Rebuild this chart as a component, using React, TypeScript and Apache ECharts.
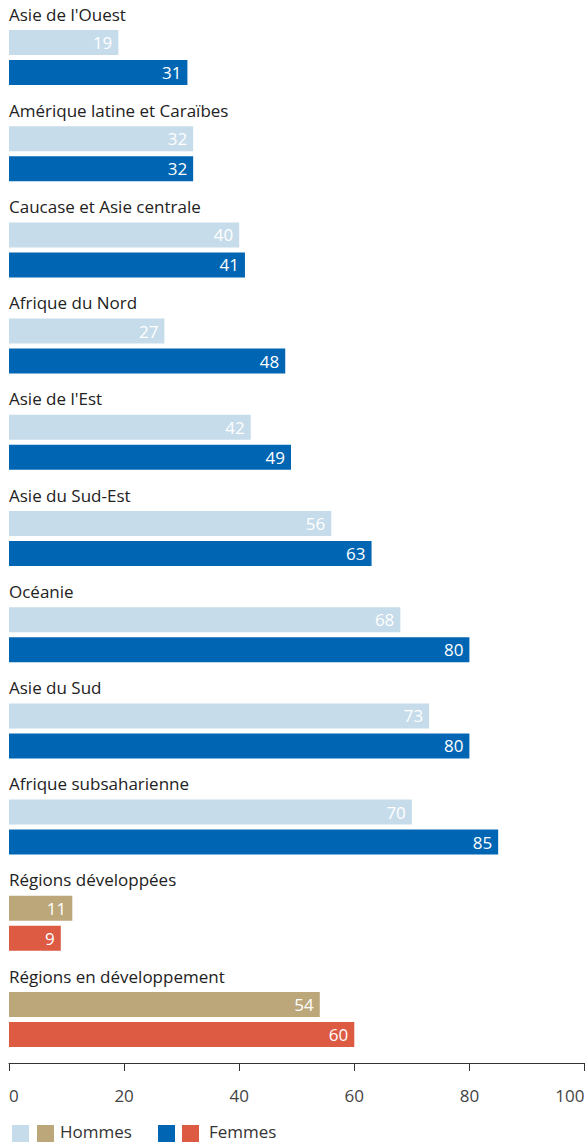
import React, { useEffect, useRef } from "react";
import * as echarts from "echarts";

const categories = [
  "Asie de l'Ouest",
  "Amérique latine et Caraïbes",
  "Caucase et Asie centrale",
  "Afrique du Nord",
  "Asie de l'Est",
  "Asie du Sud-Est",
  "Océanie",
  "Asie du Sud",
  "Afrique subsaharienne",
  "Régions développées",
  "Régions en développement",
];
const hommes = [19, 32, 40, 27, 42, 56, 68, 73, 70, 11, 54];
const femmes = [31, 32, 41, 48, 49, 63, 80, 80, 85, 9, 60];
const xTicks = [0, 20, 40, 60, 80, 100];

const C_H = "#c6dcea";
const C_F = "#0066b3";
const C_H2 = "#bba77a";
const C_F2 = "#dd5a43";
const FONT = "'Open Sans', 'Noto Sans', sans-serif";

export default function App() {
  const ref = useRef<HTMLDivElement>(null);
  useEffect(() => {
    document.body.style.margin = "0";
    const chart = echarts.init(ref.current!, undefined, { renderer: "svg" });
    const barLabel = {
      show: true,
      position: "insideRight",
      distance: 6,
      color: "#ffffff",
      fontSize: 17,
      fontFamily: FONT,
    };
    chart.setOption({
      animation: false,
      textStyle: { fontFamily: FONT },
      grid: {
        left: 9,
        right: 3.5,
        top: -5.6,
        bottom: 89.4,
        containLabel: false,
        outerBoundsMode: "none",
      },
      xAxis: {
        type: "value",
        min: xTicks[0],
        max: xTicks[xTicks.length - 1],
        interval: 20,
        offset: 10.4,
        axisLine: { show: true, lineStyle: { color: "#333", width: 1 } },
        axisTick: { show: true, length: 8, lineStyle: { color: "#333" } },
        splitLine: { show: false },
        axisLabel: {
          color: "#444",
          fontSize: 17,
          margin: 24,
          fontFamily: FONT,
          alignMinLabel: "left",
          alignMaxLabel: "right",
        },
      },
      yAxis: {
        type: "category",
        data: categories,
        inverse: true,
        show: false,
      },
      series: [
        {
          name: "label",
          type: "bar",
          barWidth: 25,
          barGap: "20%",
          silent: true,
          itemStyle: { color: "transparent" },
          data: categories.map(() => 0),
          label: {
            show: true,
            position: "right",
            distance: 0,
            offset: [0, 1.5],
            color: "#222",
            fontSize: 17,
            fontFamily: FONT,
            formatter: (p: any) => categories[p.dataIndex],
          },
        },
        {
          name: "Hommes",
          type: "bar",
          barWidth: 25,
          barGap: "20%",
          data: hommes.map((v, i) => ({
            value: v,
            itemStyle: { color: i >= 9 ? C_H2 : C_H },
          })),
          label: barLabel,
        },
        {
          name: "Femmes",
          type: "bar",
          barWidth: 25,
          barGap: "20%",
          data: femmes.map((v, i) => ({
            value: v,
            itemStyle: { color: i >= 9 ? C_F2 : C_F },
          })),
          label: barLabel,
        },
      ],
      graphic: [
        { type: "rect", shape: { x: 12, y: 1125, width: 17, height: 17 }, style: { fill: C_H } },
        { type: "rect", shape: { x: 37, y: 1125, width: 17, height: 17 }, style: { fill: C_H2 } },
        {
          type: "text",
          x: 60,
          y: 1131,
          style: { text: "Hommes", fill: "#333", fontSize: 17, fontFamily: FONT, verticalAlign: "middle" },
        },
        { type: "rect", shape: { x: 158, y: 1125, width: 17, height: 17 }, style: { fill: C_F } },
        { type: "rect", shape: { x: 182, y: 1125, width: 17, height: 17 }, style: { fill: C_F2 } },
        {
          type: "text",
          x: 209,
          y: 1131,
          style: { text: "Femmes", fill: "#333", fontSize: 17, fontFamily: FONT, verticalAlign: "middle" },
        },
      ],
    });
    return () => chart.dispose();
  }, []);
  return <div ref={ref} style={{ width: 588, height: 1142 }} />;
}
